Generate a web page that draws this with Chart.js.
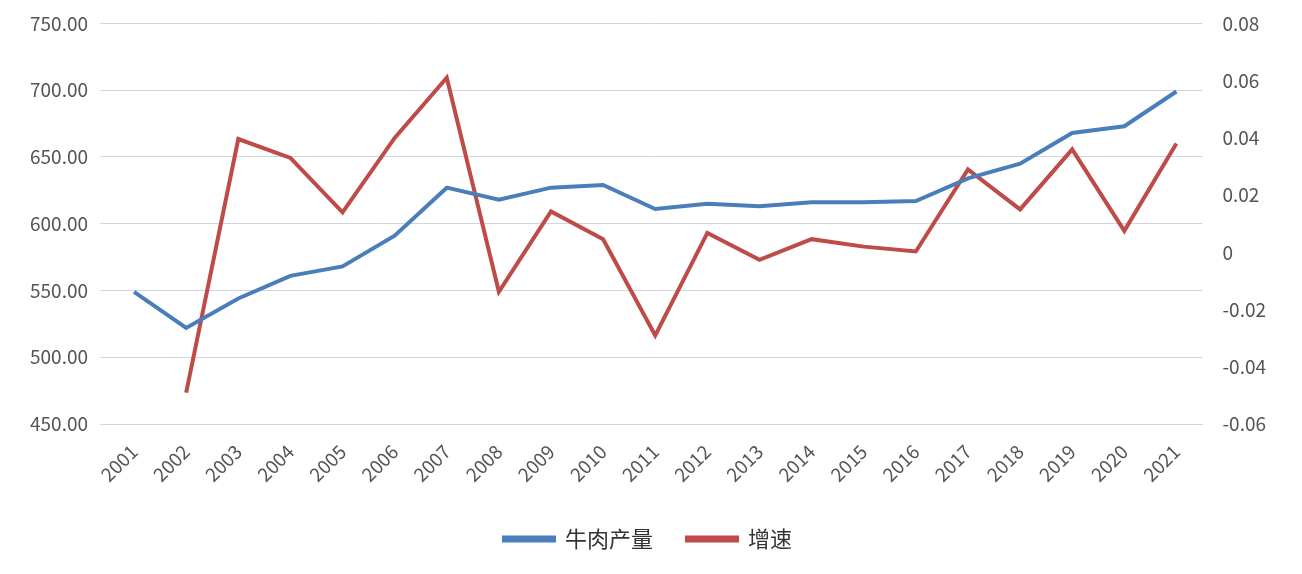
<!DOCTYPE html>
<html><head><meta charset="utf-8">
<script src="https://cdn.jsdelivr.net/npm/chart.js@4"></script>
<style>html,body{margin:0;background:#fff}#wrap{width:1302px;height:574px}</style>
</head><body><div id="wrap"><canvas id="c"></canvas></div>
<script>
const years = ['2001','2002','2003','2004','2005','2006','2007','2008','2009','2010','2011','2012','2013','2014','2015','2016','2017','2018','2019','2020','2021'];
const beefOutput = [549, 522, 544, 561, 568, 591, 627, 618, 627, 629, 611, 615, 613, 616, 616, 617, 634, 645, 668, 673, 699];
const growthRate = [null, -0.049, 0.0396, 0.033, 0.014, 0.04, 0.061, -0.0138, 0.0143, 0.0046, -0.029, 0.0068, -0.0026, 0.0046, 0.002, 0.0003, 0.029, 0.015, 0.036, 0.0075, 0.038];

const tickFont = { family: 'Noto Sans CJK SC', size: 19 };
new Chart(document.getElementById('c'), {
    type: 'line',
    data: {
        labels: years,
        datasets: [
            { label: '牛肉产量', data: beefOutput, borderColor: '#4a7ebb', backgroundColor: '#4a7ebb', borderWidth: 4, pointRadius: 0, tension: 0, yAxisID: 'y' },
            { label: '增速', data: growthRate, borderColor: '#be4b48', backgroundColor: '#be4b48', borderWidth: 4, pointRadius: 0, tension: 0, yAxisID: 'y1' }
        ]
    },
    options: {
        responsive: true,
        maintainAspectRatio: false,
        animation: false,
        layout: { padding: { left: 18, right: 24, top: 20, bottom: 14 } },
        plugins: {
            legend: {
                position: 'bottom',
                labels: { font: { family: 'Noto Sans CJK SC', size: 22 }, color: '#333', boxWidth: 50, boxHeight: 3, padding: 34 }
            },
            tooltip: { enabled: false }
        },
        scales: {
            x: {
                offset: true,
                grid: { display: false },
                border: { color: '#d0d4e4' },
                ticks: { font: tickFont, color: '#555', maxRotation: 45, minRotation: 45, padding: 8 }
            },
            y: {
                position: 'left', min: 450, max: 750,
                grid: { color: '#d0d4e4' },
                border: { display: false },
                ticks: { stepSize: 50, font: tickFont, color: '#555', padding: 12, callback: v => v.toFixed(2) }
            },
            y1: {
                position: 'right', min: -0.06, max: 0.08,
                grid: { display: false },
                border: { display: false },
                ticks: { stepSize: 0.02, font: tickFont, color: '#555', padding: 12, callback: v => Math.abs(v) < 1e-9 ? '0' : +v.toFixed(2) }
            }
        }
    }
});
</script></body></html>
